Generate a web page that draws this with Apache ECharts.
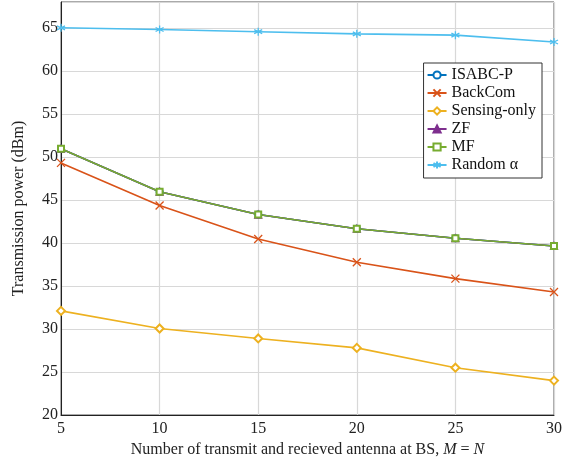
<!DOCTYPE html>
<html>
<head>
<meta charset="utf-8">
<script src="https://cdn.jsdelivr.net/npm/echarts@6/dist/echarts.min.js"></script>
<style>
  html, body { margin: 0; padding: 0; background: #fff; }
  #main { width: 577px; height: 461px; }
</style>
</head>
<body>
<div id="main"></div>
<script>
    'use strict'

    var antennas = [5, 10, 15, 20, 25, 30];

    var isabcP = [50.95, 45.95, 43.3, 41.65, 40.55, 39.65];
    var backCom = [49.3, 44.35, 40.45, 37.75, 35.85, 34.3];
    var sensingOnly = [32.1, 30.05, 28.9, 27.8, 25.5, 24.0];
    var zf = [50.95, 45.95, 43.3, 41.65, 40.55, 39.65];
    var mf = [50.95, 45.95, 43.3, 41.65, 40.55, 39.65];
    var randomAlpha = [65.0, 64.8, 64.55, 64.3, 64.15, 63.35];

    var font = 'Liberation Serif';

    function pairs(vals) {
        return antennas.map(function (x, i) { return [x, vals[i]]; });
    }

    function lineSeries(name, vals, color, symbol, size) {
        return {
            name: name,
            type: 'line',
            data: pairs(vals),
            symbol: symbol,
            symbolSize: size,
            showSymbol: true,
            lineStyle: { color: color, width: 1.6 },
            itemStyle: { color: color, borderColor: color, borderWidth: 1.3 },
            emphasis: { disabled: true }
        };
    }

    var crossIcon = 'path://M0,0L10,10M0,10L10,0';
    var starIcon = 'path://M5,0L5,10M0.67,2.5L9.33,7.5M0.67,7.5L9.33,2.5';

    var dom = document.getElementById('main');
    var chart = echarts.init(dom);

    var option = {
        animation: false,
        textStyle: { fontFamily: font },
        grid: {
            left: 61, right: 23, top: 2, bottom: 46,
            outerBoundsMode: 'none',
            containLabel: false,
            show: true, borderColor: '#555', borderWidth: 1
        },
        legend: {
            orient: 'vertical',
            right: 35,
            top: 63,
            backgroundColor: '#fff',
            borderColor: '#333',
            borderWidth: 1,
            padding: [4, 6, 5, 3],
            itemGap: 2,
            itemWidth: 19,
            itemHeight: 9,
            textStyle: { fontFamily: font, fontSize: 16, color: '#111' },
            data: ['ISABC-P', 'BackCom', 'Sensing-only', 'ZF', 'MF', 'Random α']
        },
        xAxis: {
            type: 'value',
            min: 5, max: 30, interval: 5,
            name: '{a|Number of transmit and recieved antenna at BS, }{i|M}{a| = }{i|N}',
            nameLocation: 'middle',
            nameGap: 27,
            nameTextStyle: {
                rich: {
                    a: { fontFamily: font, fontSize: 16, color: '#222' },
                    i: { fontFamily: font, fontSize: 16, color: '#222', fontStyle: 'italic' }
                }
            },
            axisLine: { show: true, lineStyle: { color: '#222' } },
            axisTick: { show: false },
            axisLabel: { fontFamily: font, fontSize: 16, color: '#222', margin: 6 },
            splitLine: { show: true, lineStyle: { color: '#d8d8d8', width: 1.2 } }
        },
        yAxis: {
            type: 'value',
            min: 20, max: 68, interval: 5,
            name: 'Transmission power (dBm)',
            nameLocation: 'middle',
            nameGap: 34,
            nameTextStyle: { fontFamily: font, fontSize: 16, color: '#222' },
            axisLine: { show: true, lineStyle: { color: '#222' } },
            axisTick: { show: false },
            axisLabel: {
                fontFamily: font, fontSize: 16, color: '#222', margin: 3,
                formatter: function (v) { return v % 5 === 0 ? v : ''; }
            },
            splitLine: { show: true, lineStyle: { color: '#d8d8d8', width: 1.2 } }
        },
        series: [
            lineSeries('ISABC-P', isabcP, '#0072BD', 'emptyCircle', 6),
            lineSeries('BackCom', backCom, '#D95319', crossIcon, 8),
            lineSeries('Sensing-only', sensingOnly, '#EDB120', 'emptyDiamond', 8),
            lineSeries('ZF', zf, '#7E2F8E', 'triangle', 7),
            lineSeries('MF', mf, '#77AC30', 'emptyRect', 6),
            lineSeries('Random α', randomAlpha, '#4DBEEE', starIcon, 8)
        ]
    };

    if (option && typeof option === 'object') {
        chart.setOption(option);
    }
</script>
</body>
</html>
